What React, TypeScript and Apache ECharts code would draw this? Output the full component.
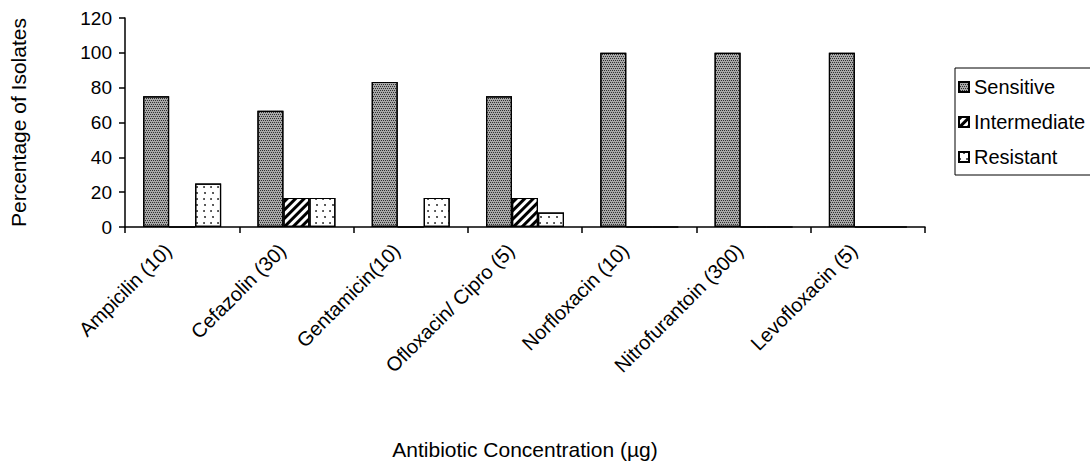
import React, { useEffect, useRef } from "react";
import * as echarts from "echarts";

const categories = [
  "Ampicilin (10)",
  "Cefazolin (30)",
  "Gentamicin(10)",
  "Ofloxacin/ Cipro (5)",
  "Norfloxacin (10)",
  "Nitrofurantoin (300)",
  "Levofloxacin (5)",
];
const sensitive = [75, 66.7, 83.3, 75, 100, 100, 100];
const intermediate = [0, 16.7, 0, 16.7, 0, 0, 0];
const resistant = [25, 16.7, 16.7, 8.3, 0, 0, 0];
const seriesNames = ["Sensitive", "Intermediate", "Resistant"];

const FONT = "Liberation Sans, Arial, sans-serif";

export default function App() {
  const ref = useRef<HTMLDivElement>(null);
  useEffect(() => {
    document.body.style.margin = "0";
    const chart = echarts.init(ref.current!, null, { renderer: "svg" });
    const decals: any[] = [
      {
        symbol: "rect",
        symbolSize: 1,
        color: "#2e2e2e",
        dashArrayX: [[1, 1], [0, 1, 1, 0]],
        dashArrayY: [1, 1],
      },
      {
        symbol: "rect",
        symbolSize: 1,
        color: "#000",
        dashArrayX: [1, 0],
        dashArrayY: [2.5, 2.5],
        rotation: -Math.PI / 4,
      },
      {
        symbol: "circle",
        symbolSize: 0.8,
        color: "#000",
        dashArrayX: [[2, 5], [0, 3.5, 2, 1.5]],
        dashArrayY: [2, 4],
      },
    ];
    const colors = ["#a8a8a8", "#ffffff", "#ffffff"];
    const datas = [sensitive, intermediate, resistant];
    chart.setOption({
      animation: false,
      backgroundColor: "#fff",
      textStyle: { fontFamily: FONT, color: "#000" },
      grid: { left: 122, top: 18, right: 165, bottom: 236 },
      legend: {
        orient: "vertical",
        left: 955,
        top: 68,
        padding: [9, 40, 8, 3],
        itemGap: 15,
        itemWidth: 10,
        itemHeight: 10,
        borderColor: "#000",
        borderWidth: 1,
        icon: "rect",
        textStyle: { fontFamily: FONT, fontSize: 20, color: "#000" },
        data: seriesNames,
      },
      xAxis: {
        type: "category",
        data: categories,
        boundaryGap: true,
        axisLine: { lineStyle: { color: "#000", width: 1.5 } },
        axisTick: { show: true, interval: 0, length: 6, lineStyle: { color: "#000", width: 1.5 } },
        axisLabel: {
          interval: 0,
          rotate: 45,
          fontSize: 20,
          color: "#000",
          fontFamily: FONT,
          margin: 6,
          padding: [0, 20, 0, 0],
        },
        name: "Antibiotic Concentration (µg)",
        nameLocation: "middle",
        nameGap: 212,
        nameTextStyle: { fontSize: 21, color: "#000", fontFamily: FONT },
      },
      yAxis: {
        type: "value",
        min: 0,
        max: 120,
        interval: 20,
        splitLine: { show: false },
        axisLine: { show: true, lineStyle: { color: "#000", width: 1.5 } },
        axisTick: { show: true, length: 6, lineStyle: { color: "#000", width: 1.5 } },
        axisLabel: { fontSize: 19, color: "#000", fontFamily: FONT, margin: 13 },
        name: "Percentage of Isolates",
        nameLocation: "middle",
        nameGap: 96,
        nameTextStyle: { fontSize: 21, color: "#000", fontFamily: FONT },
      },
      series: seriesNames.map((n, i) => ({
        name: n,
        type: "bar",
        data: datas[i],
        barWidth: 26,
        barGap: "0%",
        itemStyle: {
          color: colors[i],
          borderColor: "#000",
          borderWidth: 1.2,
          decal: decals[i],
        },
      })),
    });
    return () => chart.dispose();
  }, []);
  return <div ref={ref} style={{ width: 1090, height: 463 }} />;
}
